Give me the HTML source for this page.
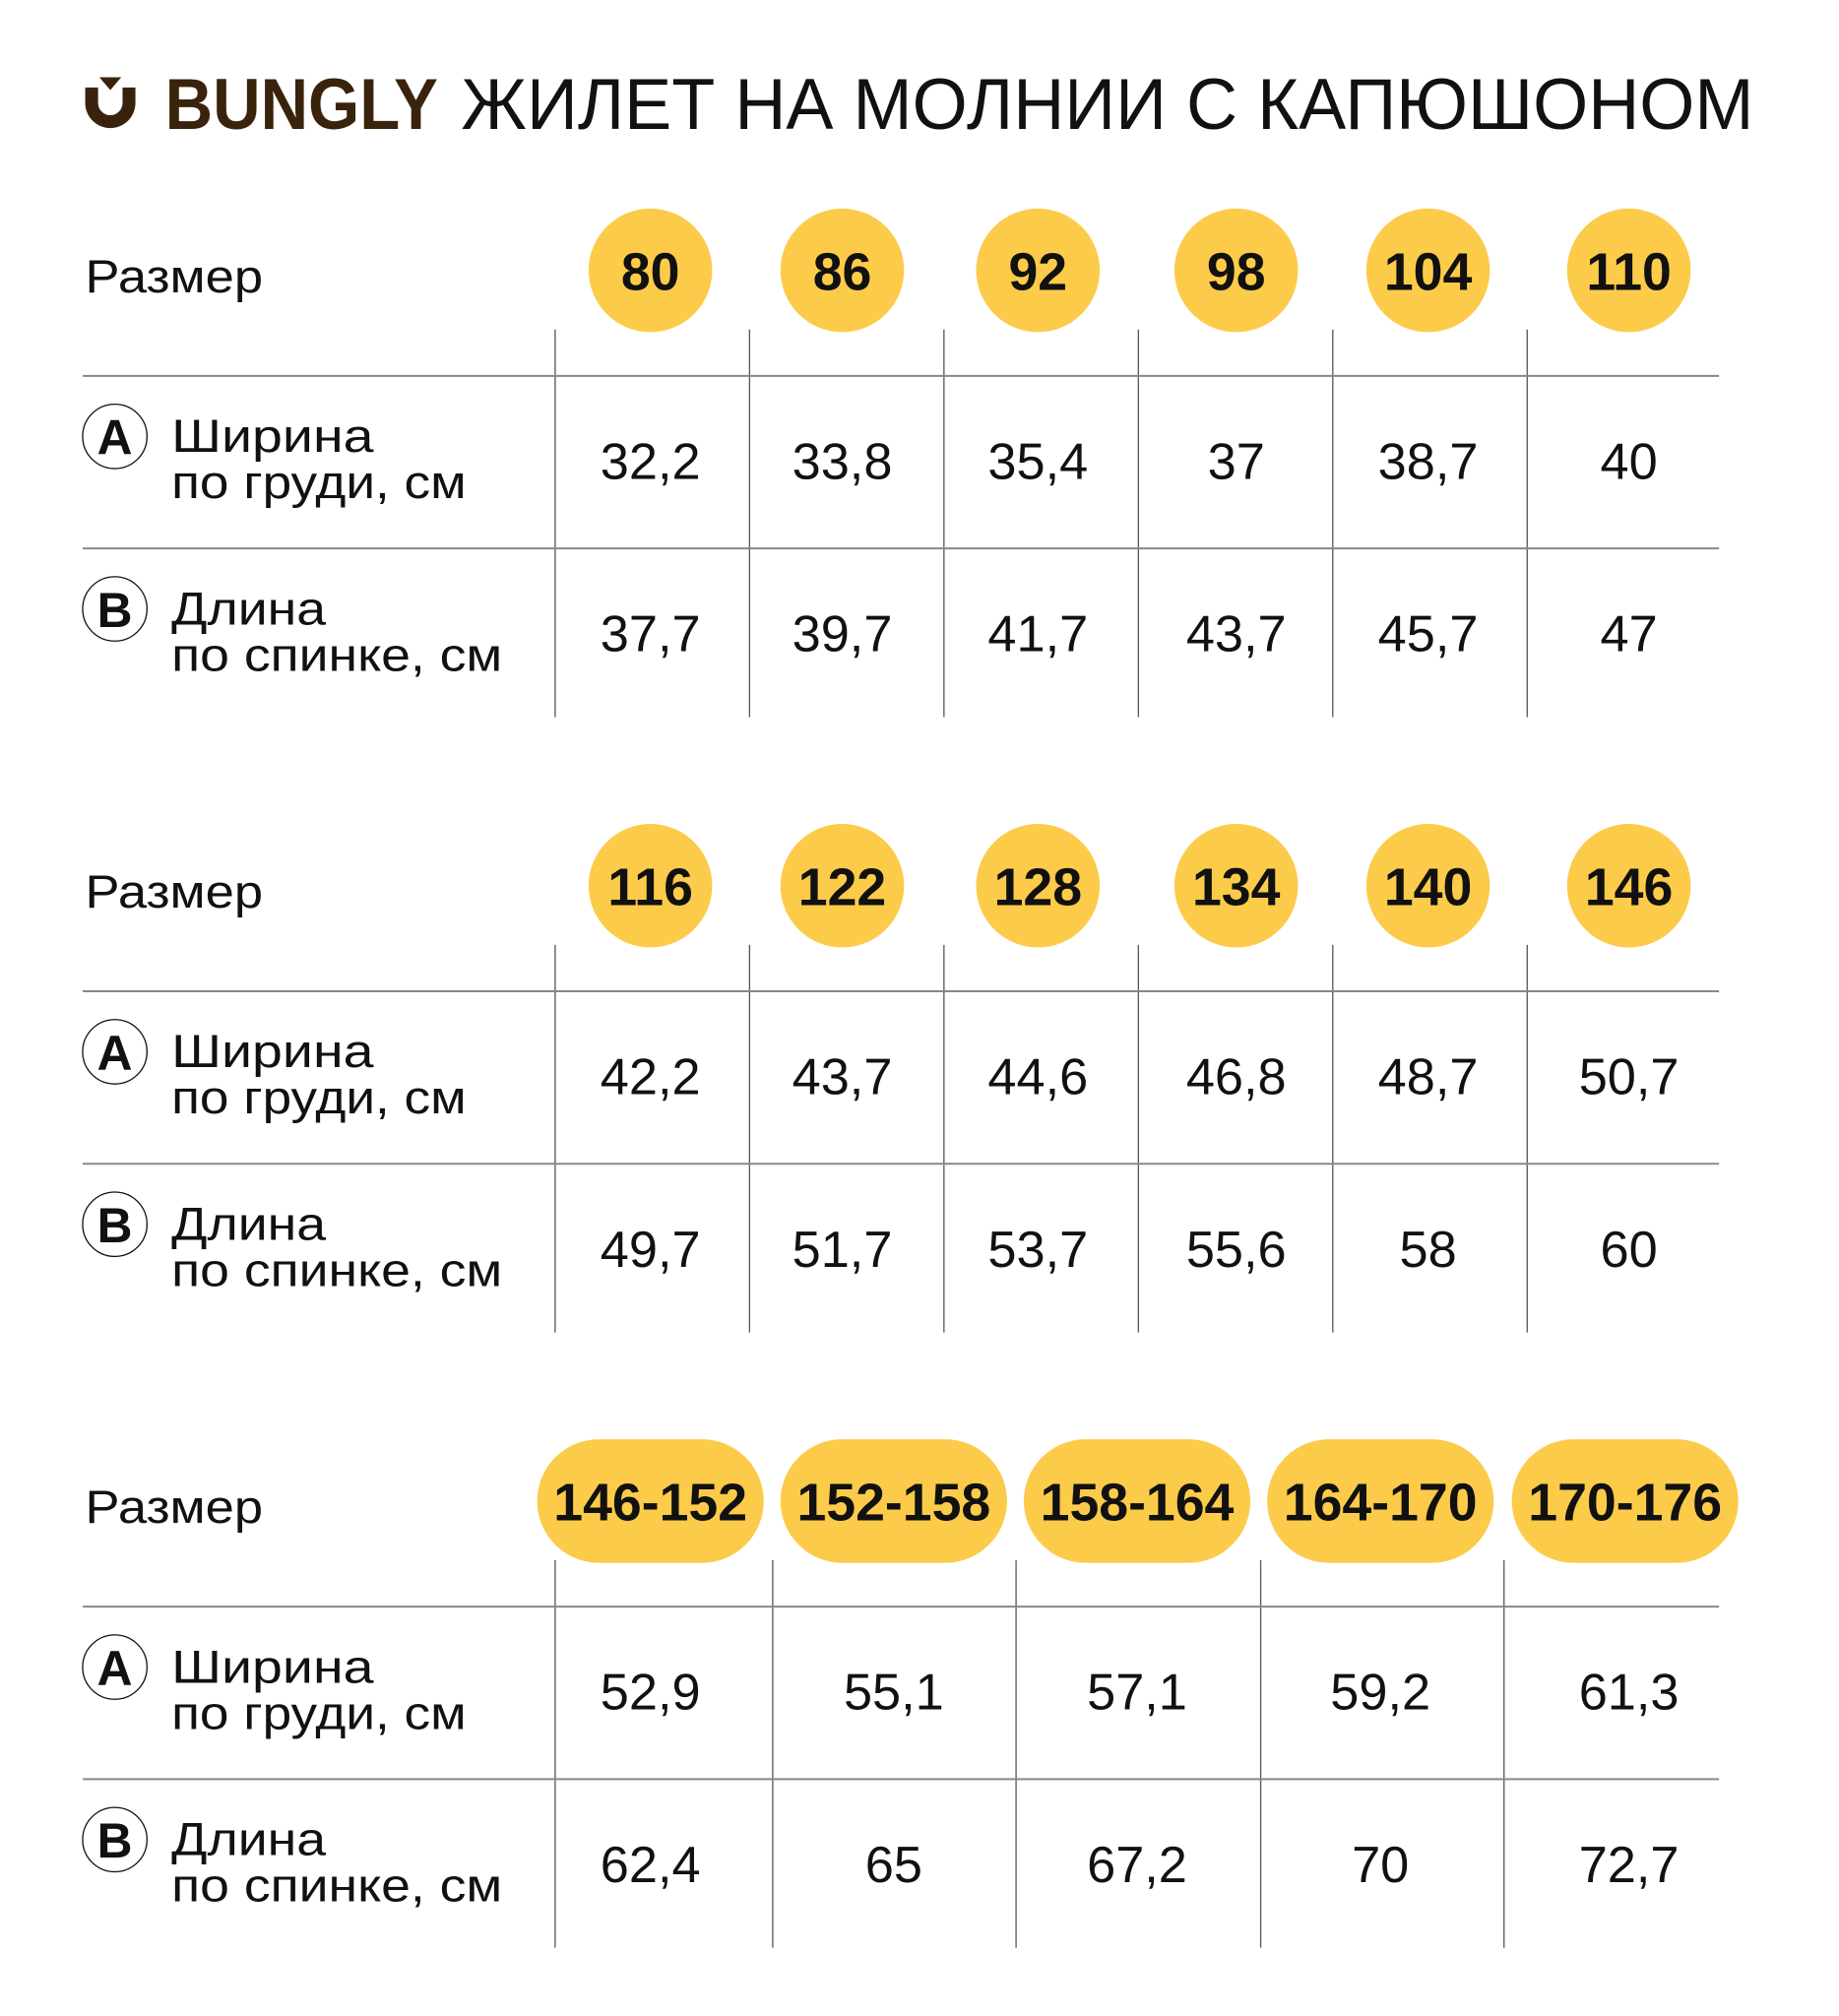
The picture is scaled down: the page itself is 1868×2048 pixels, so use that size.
<!DOCTYPE html>
<html><head><meta charset="utf-8"><style>
html,body{margin:0;padding:0;background:#fff;}
svg{display:block;}
text{font-family:"Liberation Sans",sans-serif;fill:#111;}
.v{font-size:40px;text-anchor:middle;}
.n{font-size:41px;font-weight:bold;text-anchor:middle;}
.l{font-size:36px;}
.c{font-size:38px;font-weight:bold;text-anchor:middle;}
</style></head><body>
<svg width="1868" height="2048" viewBox="0 0 1428 1566" xmlns="http://www.w3.org/2000/svg">
<rect width="1440" height="1579" fill="#fff"/>
<path d="M66 68 L66 80 A19.5 19.5 0 0 0 105 80 L105 68 L95 68 L95 80 A9.5 9.5 0 0 1 76 80 L76 68 Z" fill="#3a230c"/>
<path d="M77 60 L94 60 L85.5 70 Z" fill="#3a230c"/>
<text x="128" y="100" font-size="56" font-weight="bold" style="fill:#3a230c" textLength="212" lengthAdjust="spacingAndGlyphs">BUNGLY</text>
<text x="358" y="100" font-size="56" textLength="1004" lengthAdjust="spacingAndGlyphs">ЖИЛЕТ НА МОЛНИИ С КАПЮШОНОМ</text>

<g>
<text class="l" x="66" y="227" textLength="138" lengthAdjust="spacingAndGlyphs">Размер</text>
<g fill="#fccb4a">
<circle cx="505" cy="210" r="48"/><circle cx="654" cy="210" r="48"/><circle cx="806" cy="210" r="48"/><circle cx="960" cy="210" r="48"/><circle cx="1109" cy="210" r="48"/><circle cx="1265" cy="210" r="48"/>
</g>
<text class="n" x="505" y="225">80</text><text class="n" x="654" y="225">86</text><text class="n" x="806" y="225">92</text><text class="n" x="960" y="225">98</text><text class="n" x="1109" y="225">104</text><text class="n" x="1265" y="225">110</text>
<g stroke="#555" stroke-width="1">
<line x1="431" y1="256" x2="431" y2="557"/><line x1="582" y1="256" x2="582" y2="557"/><line x1="733" y1="256" x2="733" y2="557"/><line x1="884" y1="256" x2="884" y2="557"/><line x1="1035" y1="256" x2="1035" y2="557"/><line x1="1186" y1="256" x2="1186" y2="557"/>
</g>
<g stroke="#888" stroke-width="1.5"><line x1="64" y1="292" x2="1335" y2="292"/><line x1="64" y1="426" x2="1335" y2="426"/></g>
<circle cx="89" cy="339" r="25" fill="none" stroke="#111" stroke-width="1"/><text class="c" x="89" y="353">A</text>
<circle cx="89" cy="473" r="25" fill="none" stroke="#111" stroke-width="1"/><text class="c" x="89" y="487">B</text>
<text class="l" x="133" y="351" textLength="157" lengthAdjust="spacingAndGlyphs">Ширина</text>
<text class="l" x="133" y="387" textLength="229" lengthAdjust="spacingAndGlyphs">по груди, см</text>
<text class="l" x="133" y="485" textLength="120" lengthAdjust="spacingAndGlyphs">Длина</text>
<text class="l" x="133" y="521" textLength="257" lengthAdjust="spacingAndGlyphs">по спинке, см</text>
<text class="v" x="505" y="372">32,2</text><text class="v" x="654" y="372">33,8</text><text class="v" x="806" y="372">35,4</text><text class="v" x="960" y="372">37</text><text class="v" x="1109" y="372">38,7</text><text class="v" x="1265" y="372">40</text>
<text class="v" x="505" y="506">37,7</text><text class="v" x="654" y="506">39,7</text><text class="v" x="806" y="506">41,7</text><text class="v" x="960" y="506">43,7</text><text class="v" x="1109" y="506">45,7</text><text class="v" x="1265" y="506">47</text>
</g>

<g transform="translate(0,478)">
<text class="l" x="66" y="227" textLength="138" lengthAdjust="spacingAndGlyphs">Размер</text>
<g fill="#fccb4a">
<circle cx="505" cy="210" r="48"/><circle cx="654" cy="210" r="48"/><circle cx="806" cy="210" r="48"/><circle cx="960" cy="210" r="48"/><circle cx="1109" cy="210" r="48"/><circle cx="1265" cy="210" r="48"/>
</g>
<text class="n" x="505" y="225">116</text><text class="n" x="654" y="225">122</text><text class="n" x="806" y="225">128</text><text class="n" x="960" y="225">134</text><text class="n" x="1109" y="225">140</text><text class="n" x="1265" y="225">146</text>
<g stroke="#555" stroke-width="1">
<line x1="431" y1="256" x2="431" y2="557"/><line x1="582" y1="256" x2="582" y2="557"/><line x1="733" y1="256" x2="733" y2="557"/><line x1="884" y1="256" x2="884" y2="557"/><line x1="1035" y1="256" x2="1035" y2="557"/><line x1="1186" y1="256" x2="1186" y2="557"/>
</g>
<g stroke="#888" stroke-width="1.5"><line x1="64" y1="292" x2="1335" y2="292"/><line x1="64" y1="426" x2="1335" y2="426"/></g>
<circle cx="89" cy="339" r="25" fill="none" stroke="#111" stroke-width="1"/><text class="c" x="89" y="353">A</text>
<circle cx="89" cy="473" r="25" fill="none" stroke="#111" stroke-width="1"/><text class="c" x="89" y="487">B</text>
<text class="l" x="133" y="351" textLength="157" lengthAdjust="spacingAndGlyphs">Ширина</text>
<text class="l" x="133" y="387" textLength="229" lengthAdjust="spacingAndGlyphs">по груди, см</text>
<text class="l" x="133" y="485" textLength="120" lengthAdjust="spacingAndGlyphs">Длина</text>
<text class="l" x="133" y="521" textLength="257" lengthAdjust="spacingAndGlyphs">по спинке, см</text>
<text class="v" x="505" y="372">42,2</text><text class="v" x="654" y="372">43,7</text><text class="v" x="806" y="372">44,6</text><text class="v" x="960" y="372">46,8</text><text class="v" x="1109" y="372">48,7</text><text class="v" x="1265" y="372">50,7</text>
<text class="v" x="505" y="506">49,7</text><text class="v" x="654" y="506">51,7</text><text class="v" x="806" y="506">53,7</text><text class="v" x="960" y="506">55,6</text><text class="v" x="1109" y="506">58</text><text class="v" x="1265" y="506">60</text>
</g>

<g transform="translate(0,956)">
<text class="l" x="66" y="227" textLength="138" lengthAdjust="spacingAndGlyphs">Размер</text>
<g fill="#fccb4a">
<rect x="417" y="162" width="176" height="96" rx="48"/><rect x="606" y="162" width="176" height="96" rx="48"/><rect x="795" y="162" width="176" height="96" rx="48"/><rect x="984" y="162" width="176" height="96" rx="48"/><rect x="1174" y="162" width="176" height="96" rx="48"/>
</g>
<text class="n" x="505" y="225">146-152</text><text class="n" x="694" y="225">152-158</text><text class="n" x="883" y="225">158-164</text><text class="n" x="1072" y="225">164-170</text><text class="n" x="1262" y="225">170-176</text>
<g stroke="#555" stroke-width="1">
<line x1="431" y1="256" x2="431" y2="557"/><line x1="600" y1="256" x2="600" y2="557"/><line x1="789" y1="256" x2="789" y2="557"/><line x1="979" y1="256" x2="979" y2="557"/><line x1="1168" y1="256" x2="1168" y2="557"/>
</g>
<g stroke="#888" stroke-width="1.5"><line x1="64" y1="292" x2="1335" y2="292"/><line x1="64" y1="426" x2="1335" y2="426"/></g>
<circle cx="89" cy="339" r="25" fill="none" stroke="#111" stroke-width="1"/><text class="c" x="89" y="353">A</text>
<circle cx="89" cy="473" r="25" fill="none" stroke="#111" stroke-width="1"/><text class="c" x="89" y="487">B</text>
<text class="l" x="133" y="351" textLength="157" lengthAdjust="spacingAndGlyphs">Ширина</text>
<text class="l" x="133" y="387" textLength="229" lengthAdjust="spacingAndGlyphs">по груди, см</text>
<text class="l" x="133" y="485" textLength="120" lengthAdjust="spacingAndGlyphs">Длина</text>
<text class="l" x="133" y="521" textLength="257" lengthAdjust="spacingAndGlyphs">по спинке, см</text>
<text class="v" x="505" y="372">52,9</text><text class="v" x="694" y="372">55,1</text><text class="v" x="883" y="372">57,1</text><text class="v" x="1072" y="372">59,2</text><text class="v" x="1265" y="372">61,3</text>
<text class="v" x="505" y="506">62,4</text><text class="v" x="694" y="506">65</text><text class="v" x="883" y="506">67,2</text><text class="v" x="1072" y="506">70</text><text class="v" x="1265" y="506">72,7</text>
</g>
</svg>
</body></html>
